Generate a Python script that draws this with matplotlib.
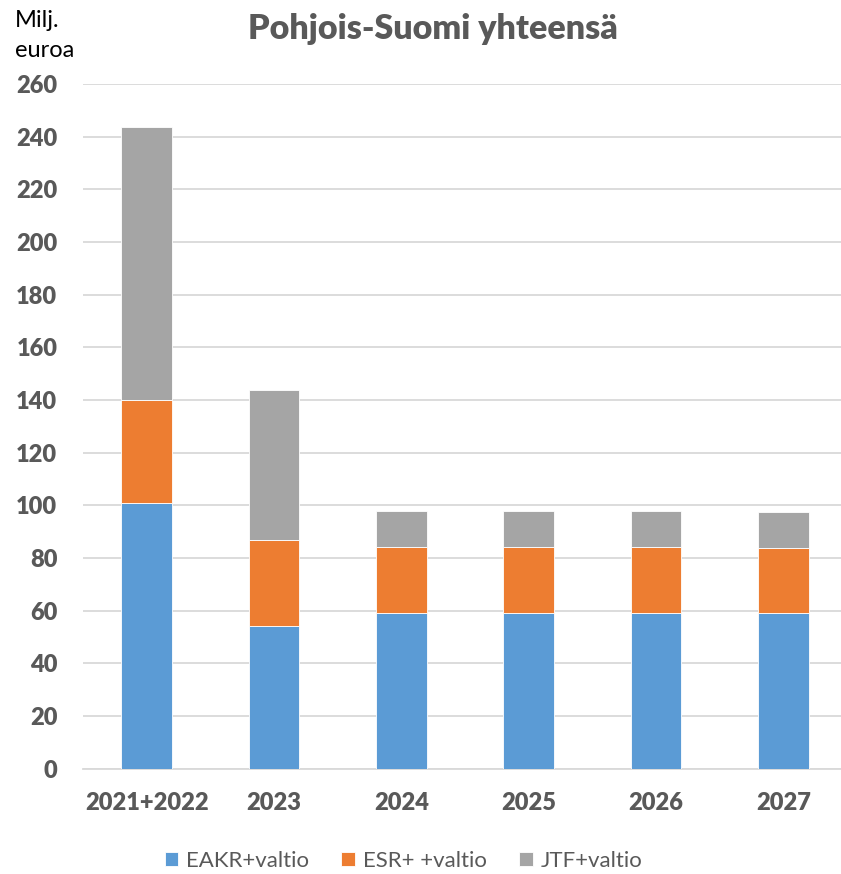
import matplotlib
matplotlib.use("Agg")
import matplotlib.pyplot as plt
import numpy as np

categories = ["2021+2022", "2023", "2024", "2025", "2026", "2027"]
eakr = [100.8, 54.2, 59.2, 59.2, 59.2, 59.0]
esr = [39.2, 32.5, 24.9, 24.9, 24.9, 24.7]
jtf = [103.7, 57.2, 13.7, 13.7, 13.7, 13.7]
series_names = ["EAKR+valtio", "ESR+ +valtio", "JTF+valtio"]
colors = ["#5B9BD5", "#ED7D31", "#A5A5A5"]
yticks = list(range(0, 261, 20))

plt.rcParams['font.family'] = ['Lato', 'DejaVu Sans']
W, H = 841, 874
fig = plt.figure(figsize=(W / 100, H / 100), dpi=100)
ax = fig.add_axes([83 / W, 105.5 / H, 757.6 / W, 684.5 / H])

x = np.arange(len(categories))
bottom = np.zeros(len(categories))
handles = []
for vals, name, c in zip([eakr, esr, jtf], series_names, colors):
    b = ax.bar(x, vals, 0.4, bottom=bottom, color=c, edgecolor='white',
               linewidth=0.6, label=name, zorder=3)
    handles.append(b)
    bottom = bottom + np.array(vals)

ax.set_xlim(-0.5, 5.45)
ax.set_ylim(0, 260)
ax.set_yticks(yticks)
ax.set_xticks(x)
ax.set_xticklabels(categories)
ax.yaxis.grid(True, color='#D9D9D9', linewidth=1.3, zorder=0)
ax.set_axisbelow(True)
for s in ['top', 'right', 'left']:
    ax.spines[s].set_visible(False)
ax.spines['bottom'].set_color('#D9D9D9')
ax.spines['bottom'].set_linewidth(1.3)
ax.tick_params(axis='both', length=0, colors='#595959', labelsize=17)
ax.tick_params(axis='y', pad=18.5)
ax.tick_params(axis='x', pad=17)
for lab in ax.get_xticklabels() + ax.get_yticklabels():
    lab.set_fontweight('heavy')

fig.text(432.5 / W, 1 - 39.3 / H, "Pohjois-Suomi yhteensä", ha='center',
         va='baseline', fontsize=24.5, fontweight='heavy', color='#595959')
fig.text(15 / W, 1 - 27 / H, "Milj.", ha='left', va='baseline', fontsize=17,
         color='black')
fig.text(15 / W, 1 - 57 / H, "euroa", ha='left', va='baseline', fontsize=17,
         color='black')

leg = fig.legend(handles=handles, labels=series_names, loc='center',
                 bbox_to_anchor=(403.5 / W, 1 - 861 / H), ncol=3, frameon=False,
                 fontsize=16, handlelength=0.62, handleheight=0.62,
                 handletextpad=0.35, columnspacing=1.45, borderpad=0,
                 borderaxespad=0)
for t in leg.get_texts():
    t.set_color('#595959')

fig.savefig("out.png", dpi=100)
